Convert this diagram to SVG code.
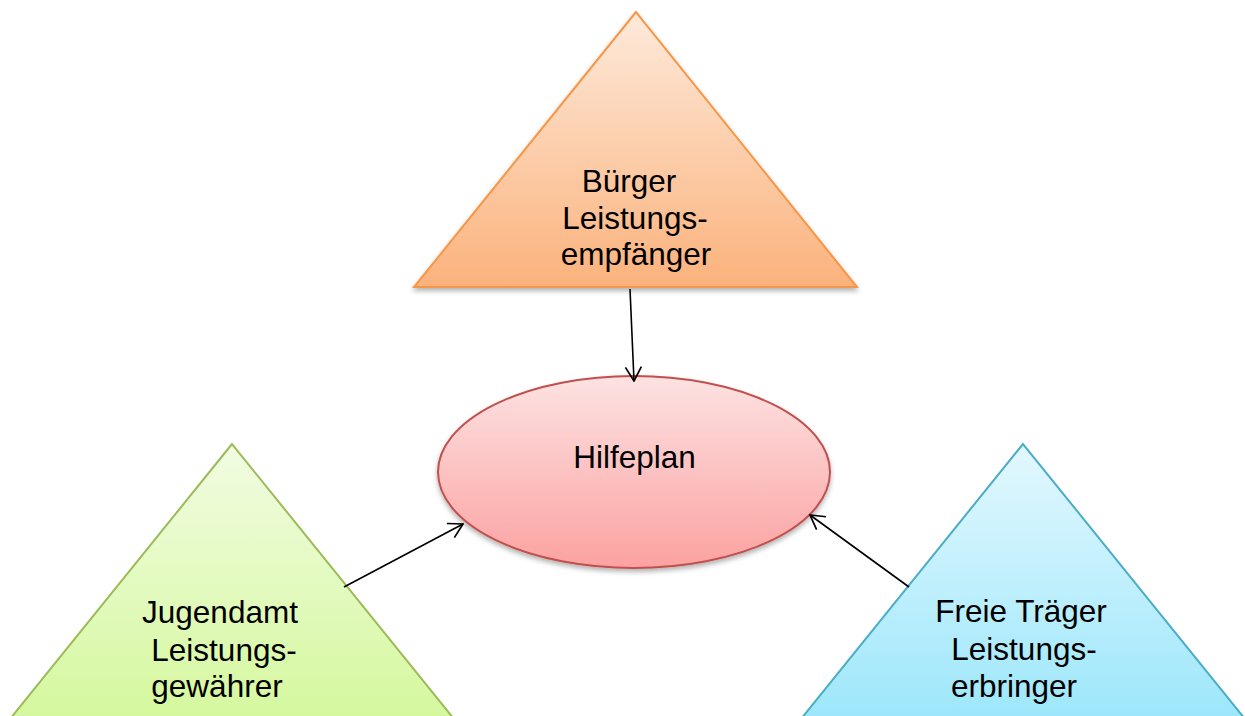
<svg xmlns="http://www.w3.org/2000/svg" width="1245" height="716" viewBox="0 0 1245 716">
<defs>
<linearGradient id="gOrange" x1="0" y1="0" x2="0" y2="1"><stop offset="0" stop-color="#fdeadb"/><stop offset="1" stop-color="#fbb27c"/></linearGradient>
<linearGradient id="gRed" x1="0" y1="0" x2="0" y2="1"><stop offset="0" stop-color="#fde2e2"/><stop offset="1" stop-color="#fba2a1"/></linearGradient>
<linearGradient id="gGreen" x1="0" y1="0" x2="0" y2="1"><stop offset="0" stop-color="#f1fce2"/><stop offset="1" stop-color="#d5f89e"/></linearGradient>
<linearGradient id="gBlue" x1="0" y1="0" x2="0" y2="1"><stop offset="0" stop-color="#e3f8fe"/><stop offset="1" stop-color="#9de7fb"/></linearGradient>
<filter id="sh" x="-10%" y="-10%" width="120%" height="130%"><feDropShadow dx="0" dy="3" stdDeviation="2.5" flood-color="#000" flood-opacity="0.3"/></filter>
<marker id="arr" viewBox="0 0 16 18" refX="15" refY="9" markerWidth="16" markerHeight="18" markerUnits="userSpaceOnUse" orient="auto"><path d="M1,1 L15,9 L1,17" fill="none" stroke="#000" stroke-width="1.7"/></marker>
</defs>
<style>
text{font-family:"Liberation Sans",Arial,sans-serif;font-size:31.5px;fill:#000;text-anchor:middle}
.conn{stroke:#000;stroke-width:1.6;fill:none;marker-end:url(#arr)}
</style>
<rect width="1245" height="716" fill="#fff"/>
<g id="buerger">
<polygon points="636,12 414,287 857,287" fill="url(#gOrange)" stroke="#f79646" stroke-width="2" filter="url(#sh)"/>
<text x="629" y="192">Bürger</text>
<text x="635" y="229">Leistungs-</text>
<text x="636" y="265">empfänger</text>
</g>
<g id="hilfeplan">
<ellipse cx="634" cy="472" rx="196" ry="96" fill="url(#gRed)" stroke="#c0504d" stroke-width="2" filter="url(#sh)"/>
<text x="634.5" y="468">Hilfeplan</text>
</g>
<g id="jugendamt">
<polygon points="232,444 10,719 454,719" fill="url(#gGreen)" stroke="#9bbb59" stroke-width="2"/>
<text x="220" y="623">Jugendamt</text>
<text x="224" y="661">Leistungs-</text>
<text x="217" y="697">gewährer</text>
</g>
<g id="freietraeger">
<polygon points="1023,444 801,719 1245,719" fill="url(#gBlue)" stroke="#4bacc6" stroke-width="2"/>
<text x="1021" y="622">Freie Träger</text>
<text x="1024" y="660">Leistungs-</text>
<text x="1014" y="697">erbringer</text>
</g>
<g id="connectors">
<line class="conn" x1="630" y1="289" x2="634" y2="381"/>
<line class="conn" x1="344" y1="587" x2="463" y2="524"/>
<line class="conn" x1="909" y1="587" x2="810" y2="515"/>
</g>
</svg>
